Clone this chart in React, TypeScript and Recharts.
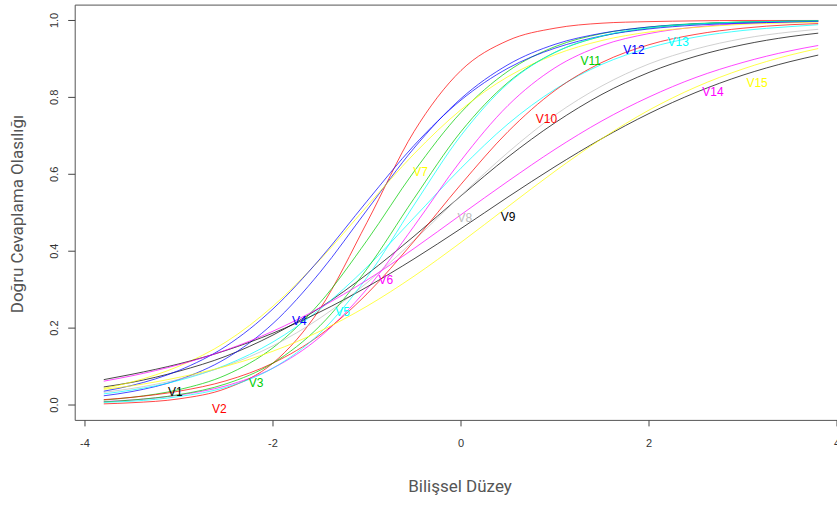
import { ComposedChart, Line, Scatter, XAxis, YAxis, ReferenceArea } from "recharts";

const THETA = [-3.8, -3.5, -3, -2.5, -2, -1.5, -1, -0.5, 0, 0.5, 1, 1.5, 2, 2.5, 3, 3.5, 3.8];

// probability of a correct answer for each item (V1..V15)
const V1 = [0.047, 0.059, 0.088, 0.127, 0.182, 0.253, 0.34, 0.439, 0.544, 0.645, 0.734, 0.808, 0.865, 0.907, 0.937, 0.958, 0.967];
const V2 = [0.003, 0.006, 0.016, 0.043, 0.109, 0.25, 0.475, 0.711, 0.87, 0.948, 0.98, 0.993, 0.997, 0.999, 1.0, 1.0, 1.0];
const V3 = [0.013, 0.02, 0.04, 0.078, 0.149, 0.266, 0.428, 0.607, 0.761, 0.868, 0.932, 0.966, 0.983, 0.992, 0.996, 0.998, 0.999];
const V4 = [0.024, 0.035, 0.066, 0.121, 0.212, 0.345, 0.507, 0.668, 0.797, 0.885, 0.938, 0.967, 0.983, 0.991, 0.995, 0.998, 0.998];
const V5 = [0.029, 0.039, 0.064, 0.104, 0.164, 0.249, 0.359, 0.487, 0.616, 0.731, 0.821, 0.886, 0.929, 0.957, 0.974, 0.984, 0.989];
const V6 = [0.009, 0.013, 0.026, 0.05, 0.096, 0.177, 0.302, 0.465, 0.636, 0.779, 0.877, 0.935, 0.966, 0.983, 0.992, 0.996, 0.997];
const V7 = [0.043, 0.06, 0.101, 0.164, 0.257, 0.378, 0.517, 0.653, 0.768, 0.854, 0.911, 0.948, 0.97, 0.982, 0.99, 0.994, 0.996];
const V8 = [0.033, 0.043, 0.067, 0.102, 0.154, 0.226, 0.318, 0.428, 0.545, 0.657, 0.754, 0.83, 0.887, 0.926, 0.953, 0.97, 0.977];
const V9 = [0.066, 0.08, 0.107, 0.142, 0.187, 0.242, 0.307, 0.38, 0.459, 0.541, 0.62, 0.693, 0.758, 0.813, 0.858, 0.893, 0.91];
const V10 = [0.014, 0.02, 0.036, 0.063, 0.109, 0.182, 0.289, 0.426, 0.574, 0.711, 0.818, 0.891, 0.937, 0.964, 0.98, 0.989, 0.992];
const V11 = [0.008, 0.013, 0.027, 0.055, 0.109, 0.206, 0.354, 0.537, 0.711, 0.839, 0.917, 0.959, 0.98, 0.991, 0.996, 0.998, 0.999];
const V12 = [0.036, 0.051, 0.09, 0.153, 0.25, 0.38, 0.53, 0.675, 0.793, 0.876, 0.928, 0.96, 0.978, 0.988, 0.993, 0.996, 0.998];
const V13 = [0.007, 0.01, 0.022, 0.046, 0.096, 0.187, 0.332, 0.52, 0.701, 0.836, 0.917, 0.96, 0.981, 0.991, 0.996, 0.998, 0.999];
const V14 = [0.062, 0.076, 0.105, 0.143, 0.192, 0.253, 0.325, 0.407, 0.495, 0.582, 0.665, 0.739, 0.801, 0.852, 0.891, 0.921, 0.935];
const V15 = [0.041, 0.05, 0.072, 0.101, 0.14, 0.192, 0.257, 0.335, 0.423, 0.516, 0.608, 0.693, 0.767, 0.827, 0.874, 0.91, 0.927];

const SERIES = [V1, V2, V3, V4, V5, V6, V7, V8, V9, V10, V11, V12, V13, V14, V15];
const NAMES = SERIES.map((_, i) => "V" + (i + 1));

// where the item names sit
const LABEL_T = [-3.04, -2.57, -2.18, -1.72, -1.26, -0.8, -0.43, 0.04, 0.5, 0.91, 1.38, 1.84, 2.31, 2.68, 3.15];
const LABEL_P = [0.034, -0.01, 0.057, 0.219, 0.242, 0.326, 0.607, 0.487, 0.49, 0.745, 0.896, 0.924, 0.945, 0.815, 0.839];

const X_TICKS = [-4, -2, 0, 2, 4];
const Y_TICKS = [0, 0.2, 0.4, 0.6, 0.8, 1];

// old R palette
const COLORS = ["#000000", "#FF0000", "#00CD00", "#0000FF", "#00FFFF", "#FF00FF", "#FFFF00", "#BEBEBE"];

const rows = THETA.map((t, i) => {
    const r: any = { t: t };
    SERIES.forEach((s, k) => { r[NAMES[k]] = s[i]; });
    return r;
});

const labelRows = LABEL_T.map((t, i) => ({ t: t, p: LABEL_P[i], name: NAMES[i], color: COLORS[i % COLORS.length] }));

const tickFont = "'Liberation Sans', Arial, sans-serif";

function YTick(props: any) {
    const { x, y, payload } = props;
    return (
        <text transform={`translate(${x - 6.7},${y}) rotate(-90)`} textAnchor="middle" fontSize={11} fill="#333" fontFamily={tickFont}>
            {Number(payload.value).toFixed(1)}
        </text>
    );
}

function NameLabel(props: any) {
    const { cx, cy, payload } = props;
    return (
        <text x={cx} y={cy} dy="0.35em" textAnchor="middle" fontSize={12} fill={payload.color} fontFamily={tickFont}>
            {payload.name}
        </text>
    );
}

export default function App() {
    return (
        <div style={{ position: "fixed", left: 0, top: 0, width: 837, height: 505, overflow: "hidden", background: "#fff" }}>
            <ComposedChart width={860} height={505} data={rows} margin={{ top: 5.1, right: 13.2, bottom: 0, left: 0 }}>
                <XAxis
                    type="number"
                    dataKey="t"
                    domain={[-4.104, 4.104]}
                    ticks={X_TICKS}
                    allowDataOverflow
                    height={84.6}
                    axisLine={false}
                    tickSize={6}
                    tickMargin={13}
                    tickLine={{ stroke: "#444" }}
                    tick={{ fontSize: 11, fill: "#333", fontFamily: tickFont }}
                />
                <YAxis
                    type="number"
                    domain={[-0.04, 1.04]}
                    ticks={Y_TICKS}
                    allowDataOverflow
                    width={75.2}
                    axisLine={false}
                    tickSize={7}
                    tickMargin={4}
                    tickLine={{ stroke: "#444" }}
                    tick={<YTick />}
                />
                <ReferenceArea x1={-4.104} x2={4.104} y1={-0.04} y2={1.04} fill="none" stroke="#555" strokeWidth={1} />
                {NAMES.map((n, i) => (
                    <Line
                        key={n}
                        type="monotone"
                        dataKey={n}
                        stroke={COLORS[i % COLORS.length]}
                        strokeWidth={0.9}
                        strokeOpacity={0.8}
                        dot={false}
                        activeDot={false}
                        isAnimationActive={false}
                    />
                ))}
                <Scatter data={labelRows} dataKey="p" shape={<NameLabel />} isAnimationActive={false} />
            </ComposedChart>
            <div style={{ position: "absolute", left: 460, top: 476, transform: "translateX(-50%)", whiteSpace: "nowrap", fontFamily: "Roboto, sans-serif", fontSize: 17, lineHeight: "20px", color: "#555" }}>
                Bilişsel Düzey
            </div>
            <div style={{ position: "absolute", left: 17 - 150, top: 214 - 10, width: 300, height: 20, transform: "rotate(-90deg)", textAlign: "center", whiteSpace: "nowrap", fontFamily: "Roboto, sans-serif", fontSize: 17, lineHeight: "20px", color: "#555" }}>
                Doğru Cevaplama Olasılığı
            </div>
        </div>
    );
}
